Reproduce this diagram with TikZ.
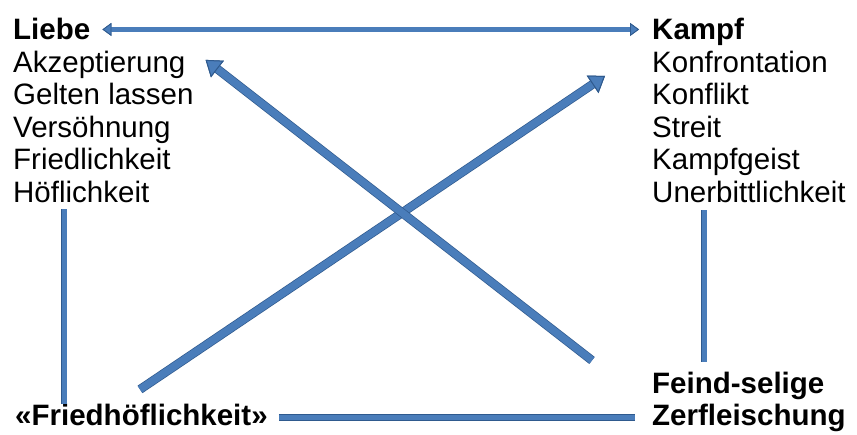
\documentclass[tikz,border=0pt]{standalone}
\usepackage{fontspec}
\setmainfont{Liberation Sans}
\usetikzlibrary{
  arrows.meta,
  calc,
  positioning
}
\definecolor{barblue}{HTML}{4A7DBA}
\definecolor{barline}{HTML}{2F5A8E}
\tikzset{
  head/.style={
    font=\fontsize{29.5}{32.5}\selectfont\bfseries,
    inner sep=0pt,
    anchor=base west
  },
  item/.style={
    font=\fontsize{29.5}{32.5}\selectfont,
    inner sep=0pt
  },
  bar/.style={
    line width=#1,
    draw=barblue,
    preaction={draw=barline, line width=#1+1.4pt}
  },
  bigtip/.style={
    -{Triangle[length=15pt, width=21pt, color=barline, fill=barblue, line width=1pt]}
  },
  smalltip/.style={
    {Triangle[length=9pt, width=13pt, color=barline, fill=barblue, line width=0.8pt]}-%
    {Triangle[length=9pt, width=13pt, color=barline, fill=barblue, line width=0.8pt]}
  }
}

\begin{document}
\begin{tikzpicture}[x=1pt, y=-1pt]
  \useasboundingbox (0,0) rectangle (857,435);

  % left column
  \node[head] (liebe) at (13,40) {Liebe};
  \node[item, below=32.5pt of liebe.base west, anchor=base west] (akzept) {Akzeptierung};
  \node[item, below=32.5pt of akzept.base west, anchor=base west] (gelten) {Gelten lassen};
  \node[item, below=32.5pt of gelten.base west, anchor=base west] (versoehn) {Versöhnung};
  \node[item, below=32.5pt of versoehn.base west, anchor=base west] (friedl) {Friedlichkeit};
  \node[item, below=32.5pt of friedl.base west, anchor=base west] (hoefl) {Höflichkeit};

  % right column
  \node[head] (kampf) at (652,40) {Kampf};
  \node[item, below=32.5pt of kampf.base west, anchor=base west] (konfront) {Konfrontation};
  \node[item, below=32.5pt of konfront.base west, anchor=base west] (konflikt) {Konflikt};
  \node[item, below=32.5pt of konflikt.base west, anchor=base west] (streit) {Streit};
  \node[item, below=32.5pt of streit.base west, anchor=base west] (kgeist) {Kampfgeist};
  \node[item, below=32.5pt of kgeist.base west, anchor=base west] (unerbitt) {Unerbittlichkeit};

  % bottom corners
  \node[head] (friedh) at (15,426) {«Friedhöflichkeit»};
  \node[head] (feind) at (652,394) {Feind-selige};
  \node[head, below=32pt of feind.base west, anchor=base west] (zerfl) {Zerfleischung};

  % connectors
  \draw[bar=4.5pt, smalltip, shorten <=12pt, shorten >=13pt]
    (liebe.east) -- (liebe.east -| kampf.west);
  \draw[bar=5pt, shorten <=6.5pt]
    ([xshift=51pt]hoefl.south west) -- ([xshift=51pt]hoefl.south west |- friedh.north);
  \draw[bar=5pt, shorten <=7.5pt, shorten >=10pt]
    ([xshift=52pt]unerbitt.south west) -- ([xshift=52pt]unerbitt.south west |- feind.north);
  \draw[bar=5.5pt, shorten <=11pt, shorten >=17pt]
    ([yshift=-2pt]friedh.east) -- ([yshift=-2pt]friedh.east -| zerfl.west);
  \draw[bar=7.5pt, bigtip]
    ($(friedh.north west)+(125,-15)$) -- ($(konfront.west)+(-47,14)$);
  \draw[bar=7.5pt, bigtip]
    ($(feind.west)+(-60,-26)$) -- ($(akzept.east)+(20,-5)$);
\end{tikzpicture}
\end{document}
